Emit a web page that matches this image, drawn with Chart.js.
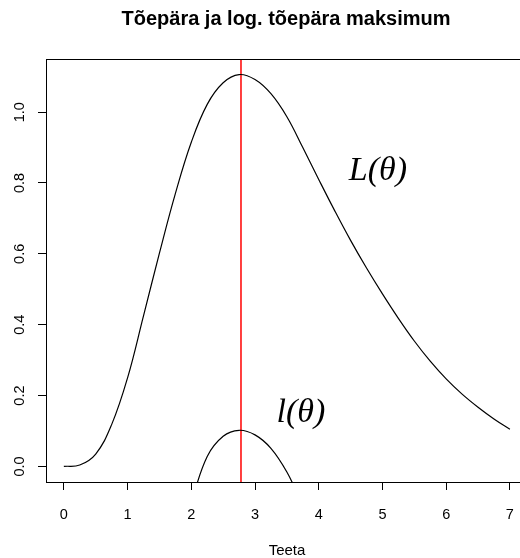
<!DOCTYPE html>
<html>
<head>
<meta charset="utf-8">
<script src="https://cdnjs.cloudflare.com/ajax/libs/Chart.js/4.4.1/chart.umd.js"></script>
<style>
  html, body { margin:0; padding:0; background:#fff; overflow:hidden; }
  #wrap { width:530px; height:558px; }
</style>
</head>
<body>
<div id="wrap"><canvas id="c" width="530" height="558"></canvas></div>
<script>
// likelihood L(theta)
const thetaL = [0, 0.25, 0.5, 0.75, 1.0, 1.25, 1.5, 1.75, 2.0, 2.25, 2.5, 2.75,
                3.0, 3.25, 3.5, 3.75, 4.0, 4.25, 4.5, 4.75, 5.0, 5.25, 5.5, 5.75, 6.0, 6.25, 6.5, 6.75, 7.0]
const valL   = [0, 0.004, 0.035, 0.118, 0.25, 0.425, 0.602, 0.77, 0.915, 1.022, 1.083, 1.106,
                1.092, 1.052, 0.987, 0.90, 0.81, 0.722, 0.638, 0.56, 0.487, 0.418, 0.354, 0.297, 0.247, 0.204, 0.167, 0.134, 0.105]
// log-likelihood l(theta)
const thetaLog = [2.0, 2.25, 2.5, 2.75, 3.0, 3.25, 3.5, 3.75]
const valLog   = [-0.1, 0.028, 0.085, 0.102, 0.089, 0.051, -0.016, -0.11]
const mleTheta = 2.78
const xTicks = [0, 1, 2, 3, 4, 5, 6, 7]
const yTicks = [0, 0.2, 0.4, 0.6, 0.8, 1.0]
const yTickLabels = ['0.0', '0.2', '0.4', '0.6', '0.8', '1.0']
const xRange = [-0.28, 7.28]
const yRange = [-0.044, 1.15]

const sans = '"Liberation Sans", Arial, sans-serif'
const serif = '"Liberation Serif", "Times New Roman", serif'

const rPlot = {
  id: 'rPlot',
  afterDraw(chart) {
    const { ctx, chartArea: a, scales: { x, y } } = chart
    ctx.save()
    ctx.strokeStyle = '#000'
    ctx.lineWidth = 1
    ctx.strokeRect(Math.round(a.left) + 0.5, Math.round(a.top) + 0.5, a.right - a.left, a.bottom - a.top)

    ctx.fillStyle = '#000'
    ctx.font = 'bold 20px ' + sans
    ctx.textAlign = 'center'
    ctx.textBaseline = 'middle'
    ctx.fillText('Tõepära ja log. tõepära maksimum', 286, 19)

    ctx.font = '15px ' + sans
    ctx.fillText('Teeta', 287, 551)

    ctx.font = '14.5px ' + sans
    yTicks.forEach((v, i) => {
      ctx.save()
      ctx.translate(20, y.getPixelForValue(v))
      ctx.rotate(-Math.PI / 2)
      ctx.fillText(yTickLabels[i], 0, 0)
      ctx.restore()
    })

    ctx.font = 'italic 34px ' + serif
    ctx.fillText('L(θ)', x.getPixelForValue(4.93), y.getPixelForValue(0.835))
    ctx.fillText('l(θ)', x.getPixelForValue(3.72), y.getPixelForValue(0.15))
    ctx.restore()
  }
}

new Chart(document.getElementById('c'), {
  type: 'line',
  data: {
    datasets: [
      { data: thetaL.map((t, i) => ({ x: t, y: valL[i] })),
        borderColor: '#000', borderWidth: 1.2, pointRadius: 0, tension: 0.4 },
      { data: thetaLog.map((t, i) => ({ x: t, y: valLog[i] })),
        borderColor: '#000', borderWidth: 1.2, pointRadius: 0, tension: 0.4 },
      { data: [{ x: mleTheta, y: yRange[0] }, { x: mleTheta, y: yRange[1] }],
        borderColor: '#ff0000', borderWidth: 1.5, pointRadius: 0 },
    ]
  },
  options: {
    responsive: false, animation: false, devicePixelRatio: 1,
    layout: { padding: { left: 0, top: 59, right: 2, bottom: 0 } },
    plugins: { legend: { display: false }, tooltip: { enabled: false } },
    scales: {
      x: { type: 'linear', min: xRange[0], max: xRange[1],
        afterBuildTicks: s => { s.ticks = xTicks.map(v => ({ value: v })) },
        afterFit: s => { s.height = 76 },
        grid: { drawOnChartArea: false, drawTicks: true, tickLength: 8, color: '#000' },
        border: { display: false },
        ticks: { color: '#000', font: { family: sans, size: 14.5 }, padding: 16, maxRotation: 0,
          callback: v => String(v) } },
      y: { type: 'linear', min: yRange[0], max: yRange[1],
        afterBuildTicks: s => { s.ticks = yTicks.map(v => ({ value: v })) },
        afterFit: s => { s.width = 46 },
        grid: { drawOnChartArea: false, drawTicks: true, tickLength: 8, color: '#000' },
        border: { display: false },
        ticks: { display: false } }
    }
  },
  plugins: [rPlot]
})
</script>
</body>
</html>
